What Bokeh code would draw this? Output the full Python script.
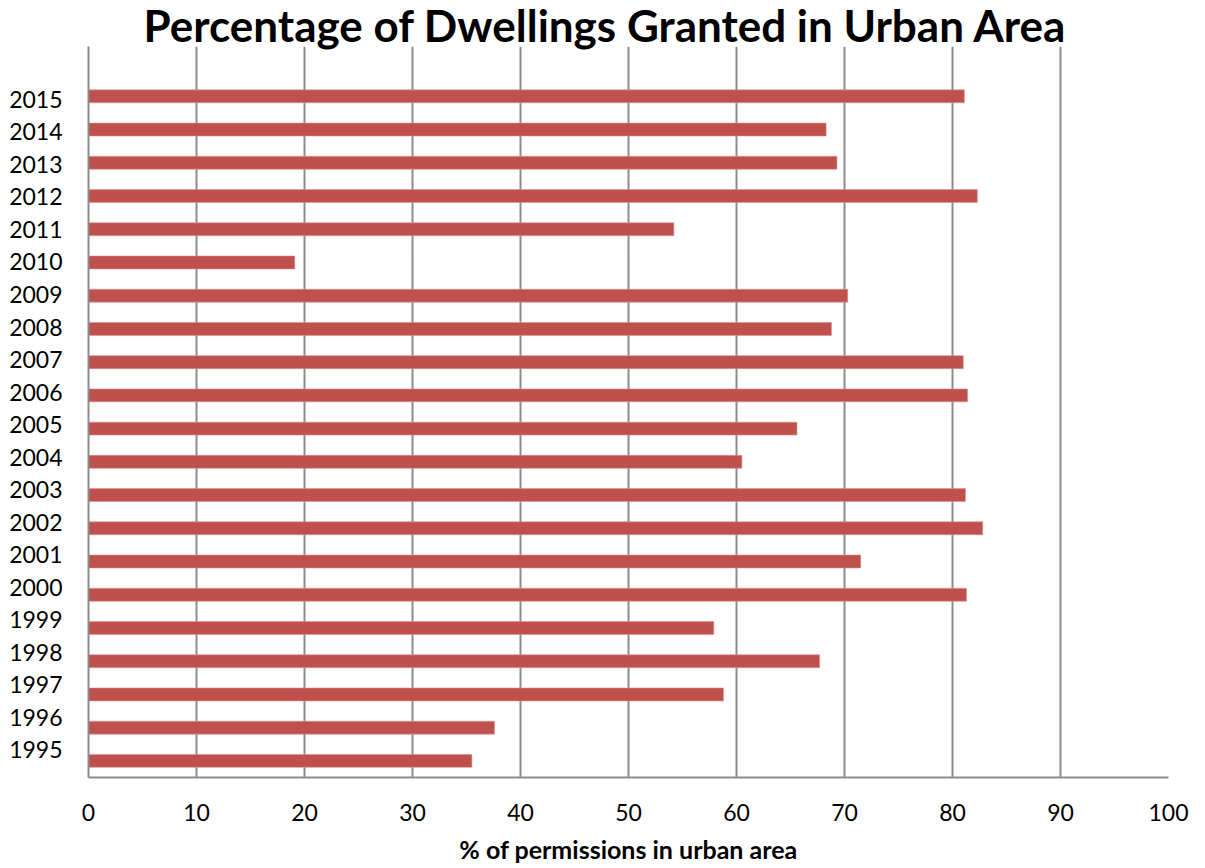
from bokeh.plotting import figure
from bokeh.models import Range1d, LinearAxis, FixedTicker
from bokeh.embed import file_html
from bokeh.resources import INLINE

years = ["1995", "1996", "1997", "1998", "1999", "2000", "2001", "2002", "2003", "2004",
         "2005", "2006", "2007", "2008", "2009", "2010", "2011", "2012", "2013", "2014", "2015"]
values = [35.5, 37.6, 58.8, 67.7, 57.9, 81.3, 71.5, 82.8, 81.2, 60.5,
          65.6, 81.4, 81.0, 68.8, 70.3, 19.1, 54.2, 82.3, 69.3, 68.3, 81.1]
x_ticks = [0, 10, 20, 30, 40, 50, 60, 70, 80, 90, 100]

FONT = "Lato"
GRID = "#8c8c8c"

idx = list(range(len(years)))

p = figure(width=1200, height=866, output_backend="svg", toolbar_location=None,
           x_range=Range1d(0, 100), y_range=Range1d(-0.5, len(years) + 0.5),
           min_border_left=88, min_border_right=32, min_border_top=0, min_border_bottom=88)
p.outline_line_color = None
p.background_fill_color = "white"

p.title.text = "Percentage of Dwellings Granted in Urban Area"
p.title.align = "left"
p.title.text_font = FONT
p.title.text_font_style = "bold"
p.title.text_font_size = "44px"
p.title.text_color = "black"
p.title.standoff = -8
p.title.offset = 55

p.hbar(y=idx, right=values, left=0, height=0.39, color="#C0504D", line_color="#D99694", line_width=0.6)

# x axis
xa = p.xaxis[0]
xa.ticker = FixedTicker(ticks=x_ticks)
xa.axis_line_color = GRID
xa.axis_line_width = 2
xa.major_tick_line_color = None
xa.minor_tick_line_color = None
xa.major_label_text_font = FONT
xa.major_label_text_font_size = "23px"
xa.major_label_text_color = "black"
xa.major_label_standoff = 20
xa.axis_label = "% of permissions in urban area"
xa.axis_label_text_font = FONT
xa.axis_label_text_font_style = "bold"
xa.axis_label_text_font_size = "25px"
xa.axis_label_text_color = "black"
xa.axis_label_standoff = 10

p.xgrid.ticker = FixedTicker(ticks=x_ticks)
p.xgrid.grid_line_color = GRID
p.xgrid.grid_line_width = 2
p.ygrid.grid_line_color = None

ya = p.yaxis[0]
ya.ticker = FixedTicker(ticks=[])
ya.axis_line_color = GRID
ya.axis_line_width = 2
ya.major_tick_line_color = None
ya.minor_tick_line_color = None
ya.major_label_text_font_size = "0px"

# year labels on their own range (spaced slightly differently, as in the original)
p.extra_y_ranges = {"labels": Range1d(-0.86, 21.63)}
la = LinearAxis(y_range_name="labels", ticker=FixedTicker(ticks=idx),
                major_label_overrides={i: y for i, y in zip(idx, years)})
la.axis_line_color = None
la.major_tick_line_color = None
la.minor_tick_line_color = None
la.major_label_text_font = FONT
la.major_label_text_font_size = "23px"
la.major_label_text_color = "black"
la.major_label_standoff = 20
p.add_layout(la, "left")

open("out.html", "w").write(file_html(p, INLINE))
